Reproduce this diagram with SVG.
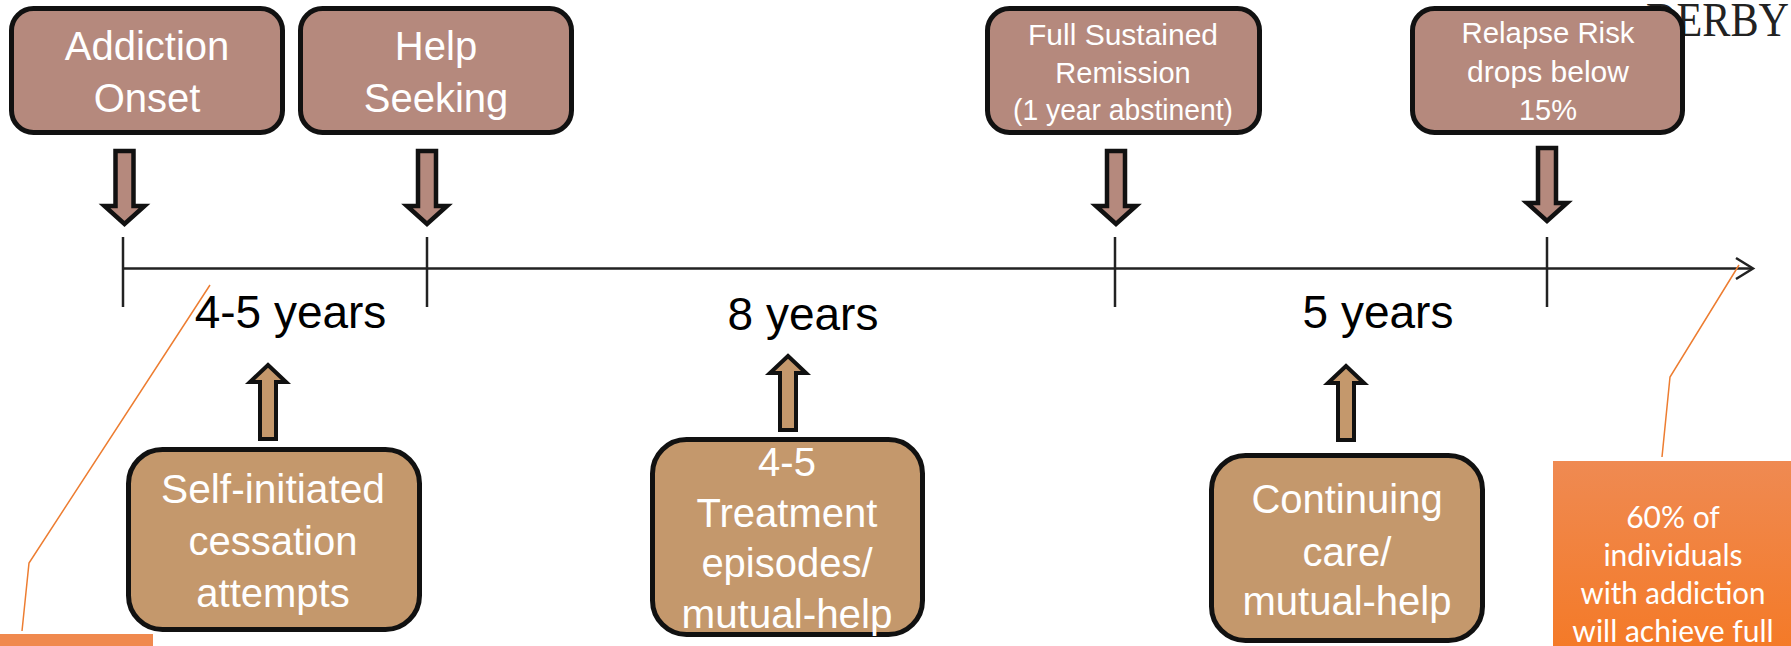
<svg xmlns="http://www.w3.org/2000/svg" width="1791" height="646" viewBox="0 0 1791 646">
<style>
.top{fill:#b5897d;stroke:#111;stroke-width:5}
.bot{fill:#c4986c;stroke:#111;stroke-width:5}
.bt{font-family:"Liberation Sans",Arial,sans-serif;font-size:40px;fill:#fff;text-anchor:middle}
.st{font-family:"Liberation Sans",Arial,sans-serif;font-size:29px;fill:#fff;text-anchor:middle}
.yr{font-family:"Liberation Sans",Arial,sans-serif;font-size:46px;fill:#000;text-anchor:middle}
.ot{font-family:Lato,"Open Sans",sans-serif;font-size:30px;fill:#fff;text-anchor:middle}
.darr{fill:#b5897d;stroke:#111;stroke-width:4.5}
.uarr{fill:#c4986c;stroke:#111;stroke-width:4}
.tl{stroke:#222;stroke-width:2.5;fill:none}
.lead{stroke:#ed7d31;stroke-width:1.5;fill:none}
</style>
<defs>
<path id="down" d="M-9,0 H9 V55 H20 L0,73 L-20,55 H-9 Z"/>
<path id="up" d="M0,0 L18,17 H8 V74 H-8 V17 H-18 Z"/>
<linearGradient id="og" x1="0" y1="0" x2="0" y2="1">
<stop offset="0" stop-color="#ef8a52"/>
<stop offset="1" stop-color="#f47a28"/>
</linearGradient>
</defs>
<rect width="1791" height="646" fill="#fff"/>
<text x="1646" y="36" font-family="'Liberation Serif','Times New Roman',serif" font-size="48" fill="#222" textLength="143" lengthAdjust="spacingAndGlyphs">DERBY</text>

<g id="connectors">
<line class="tl" x1="123" y1="268.5" x2="1752" y2="268.5"/>
<polyline class="tl" points="1736,258 1753,268.5 1736,279"/>
<line class="tl" x1="123" y1="237" x2="123" y2="307" stroke-width="2"/>
<line class="tl" x1="427" y1="237" x2="427" y2="307" stroke-width="2"/>
<line class="tl" x1="1115" y1="237" x2="1115" y2="307" stroke-width="2"/>
<line class="tl" x1="1547" y1="237" x2="1547" y2="307" stroke-width="2"/>
<use href="#down" class="darr" transform="translate(124.5,151)"/>
<use href="#down" class="darr" transform="translate(427,151)"/>
<use href="#down" class="darr" transform="translate(1116,151)"/>
<use href="#down" class="darr" transform="translate(1547,148)"/>
<use href="#up" class="uarr" transform="translate(268,365)"/>
<use href="#up" class="uarr" transform="translate(788,356)"/>
<use href="#up" class="uarr" transform="translate(1346,366)"/>
<polyline class="lead" points="210,285 29,563 22,631"/>
<polyline class="lead" points="1739,265 1670,377 1662,457"/>
</g>

<g id="addiction-onset">
<rect class="top" x="11.5" y="8.5" width="271" height="124" rx="22"/>
<text class="bt" x="147" y="60">Addiction</text>
<text class="bt" x="147" y="112">Onset</text>
</g>
<g id="help-seeking">
<rect class="top" x="300.5" y="8.5" width="271" height="124" rx="22"/>
<text class="bt" x="436" y="60">Help</text>
<text class="bt" x="436" y="112">Seeking</text>
</g>
<g id="full-sustained-remission">
<rect class="top" x="987.5" y="8.5" width="272" height="124" rx="22"/>
<text class="st" x="1123" y="45" textLength="190" lengthAdjust="spacingAndGlyphs">Full Sustained</text>
<text class="st" x="1123" y="83">Remission</text>
<text class="st" x="1123" y="120" textLength="220" lengthAdjust="spacingAndGlyphs">(1 year abstinent)</text>
</g>
<g id="relapse-risk">
<rect class="top" x="1412.5" y="8.5" width="270" height="124" rx="22"/>
<text class="st" x="1548" y="43" textLength="173" lengthAdjust="spacingAndGlyphs">Relapse Risk</text>
<text class="st" x="1548" y="82" textLength="162" lengthAdjust="spacingAndGlyphs">drops below</text>
<text class="st" x="1548" y="120">15%</text>
</g>

<g id="years-labels">
<text class="yr" x="290.5" y="328">4-5 years</text>
<text class="yr" x="803" y="330">8 years</text>
<text class="yr" x="1378" y="328">5 years</text>
</g>

<g id="self-initiated">
<rect class="bot" x="128.5" y="449.5" width="291" height="180" rx="34"/>
<text class="bt" x="273" y="503" textLength="224" lengthAdjust="spacingAndGlyphs">Self-initiated</text>
<text class="bt" x="273" y="555">cessation</text>
<text class="bt" x="273" y="607">attempts</text>
</g>
<g id="treatment-episodes">
<rect class="bot" x="652.5" y="439.5" width="270" height="195" rx="34"/>
<text class="bt" x="787" y="476">4-5</text>
<text class="bt" x="787" y="527">Treatment</text>
<text class="bt" x="787" y="577">episodes/</text>
<text class="bt" x="787" y="628" textLength="211" lengthAdjust="spacingAndGlyphs">mutual-help</text>
</g>
<g id="continuing-care">
<rect class="bot" x="1211.5" y="455.5" width="271" height="185" rx="34"/>
<text class="bt" x="1347" y="513">Continuing</text>
<text class="bt" x="1347" y="566">care/</text>
<text class="bt" x="1347" y="615">mutual-help</text>
</g>

<g id="callout-left">
<rect x="0" y="634" width="153" height="12" fill="#f0894e"/>
</g>
<g id="callout-right">
<rect x="1553" y="461" width="238" height="185" fill="url(#og)"/>
<text class="ot" x="1673" y="528">60% of</text>
<text class="ot" x="1673" y="566">individuals</text>
<text class="ot" x="1673" y="604" textLength="185" lengthAdjust="spacingAndGlyphs">with addiction</text>
<text class="ot" x="1673" y="642">will achieve full</text>
</g>
</svg>
